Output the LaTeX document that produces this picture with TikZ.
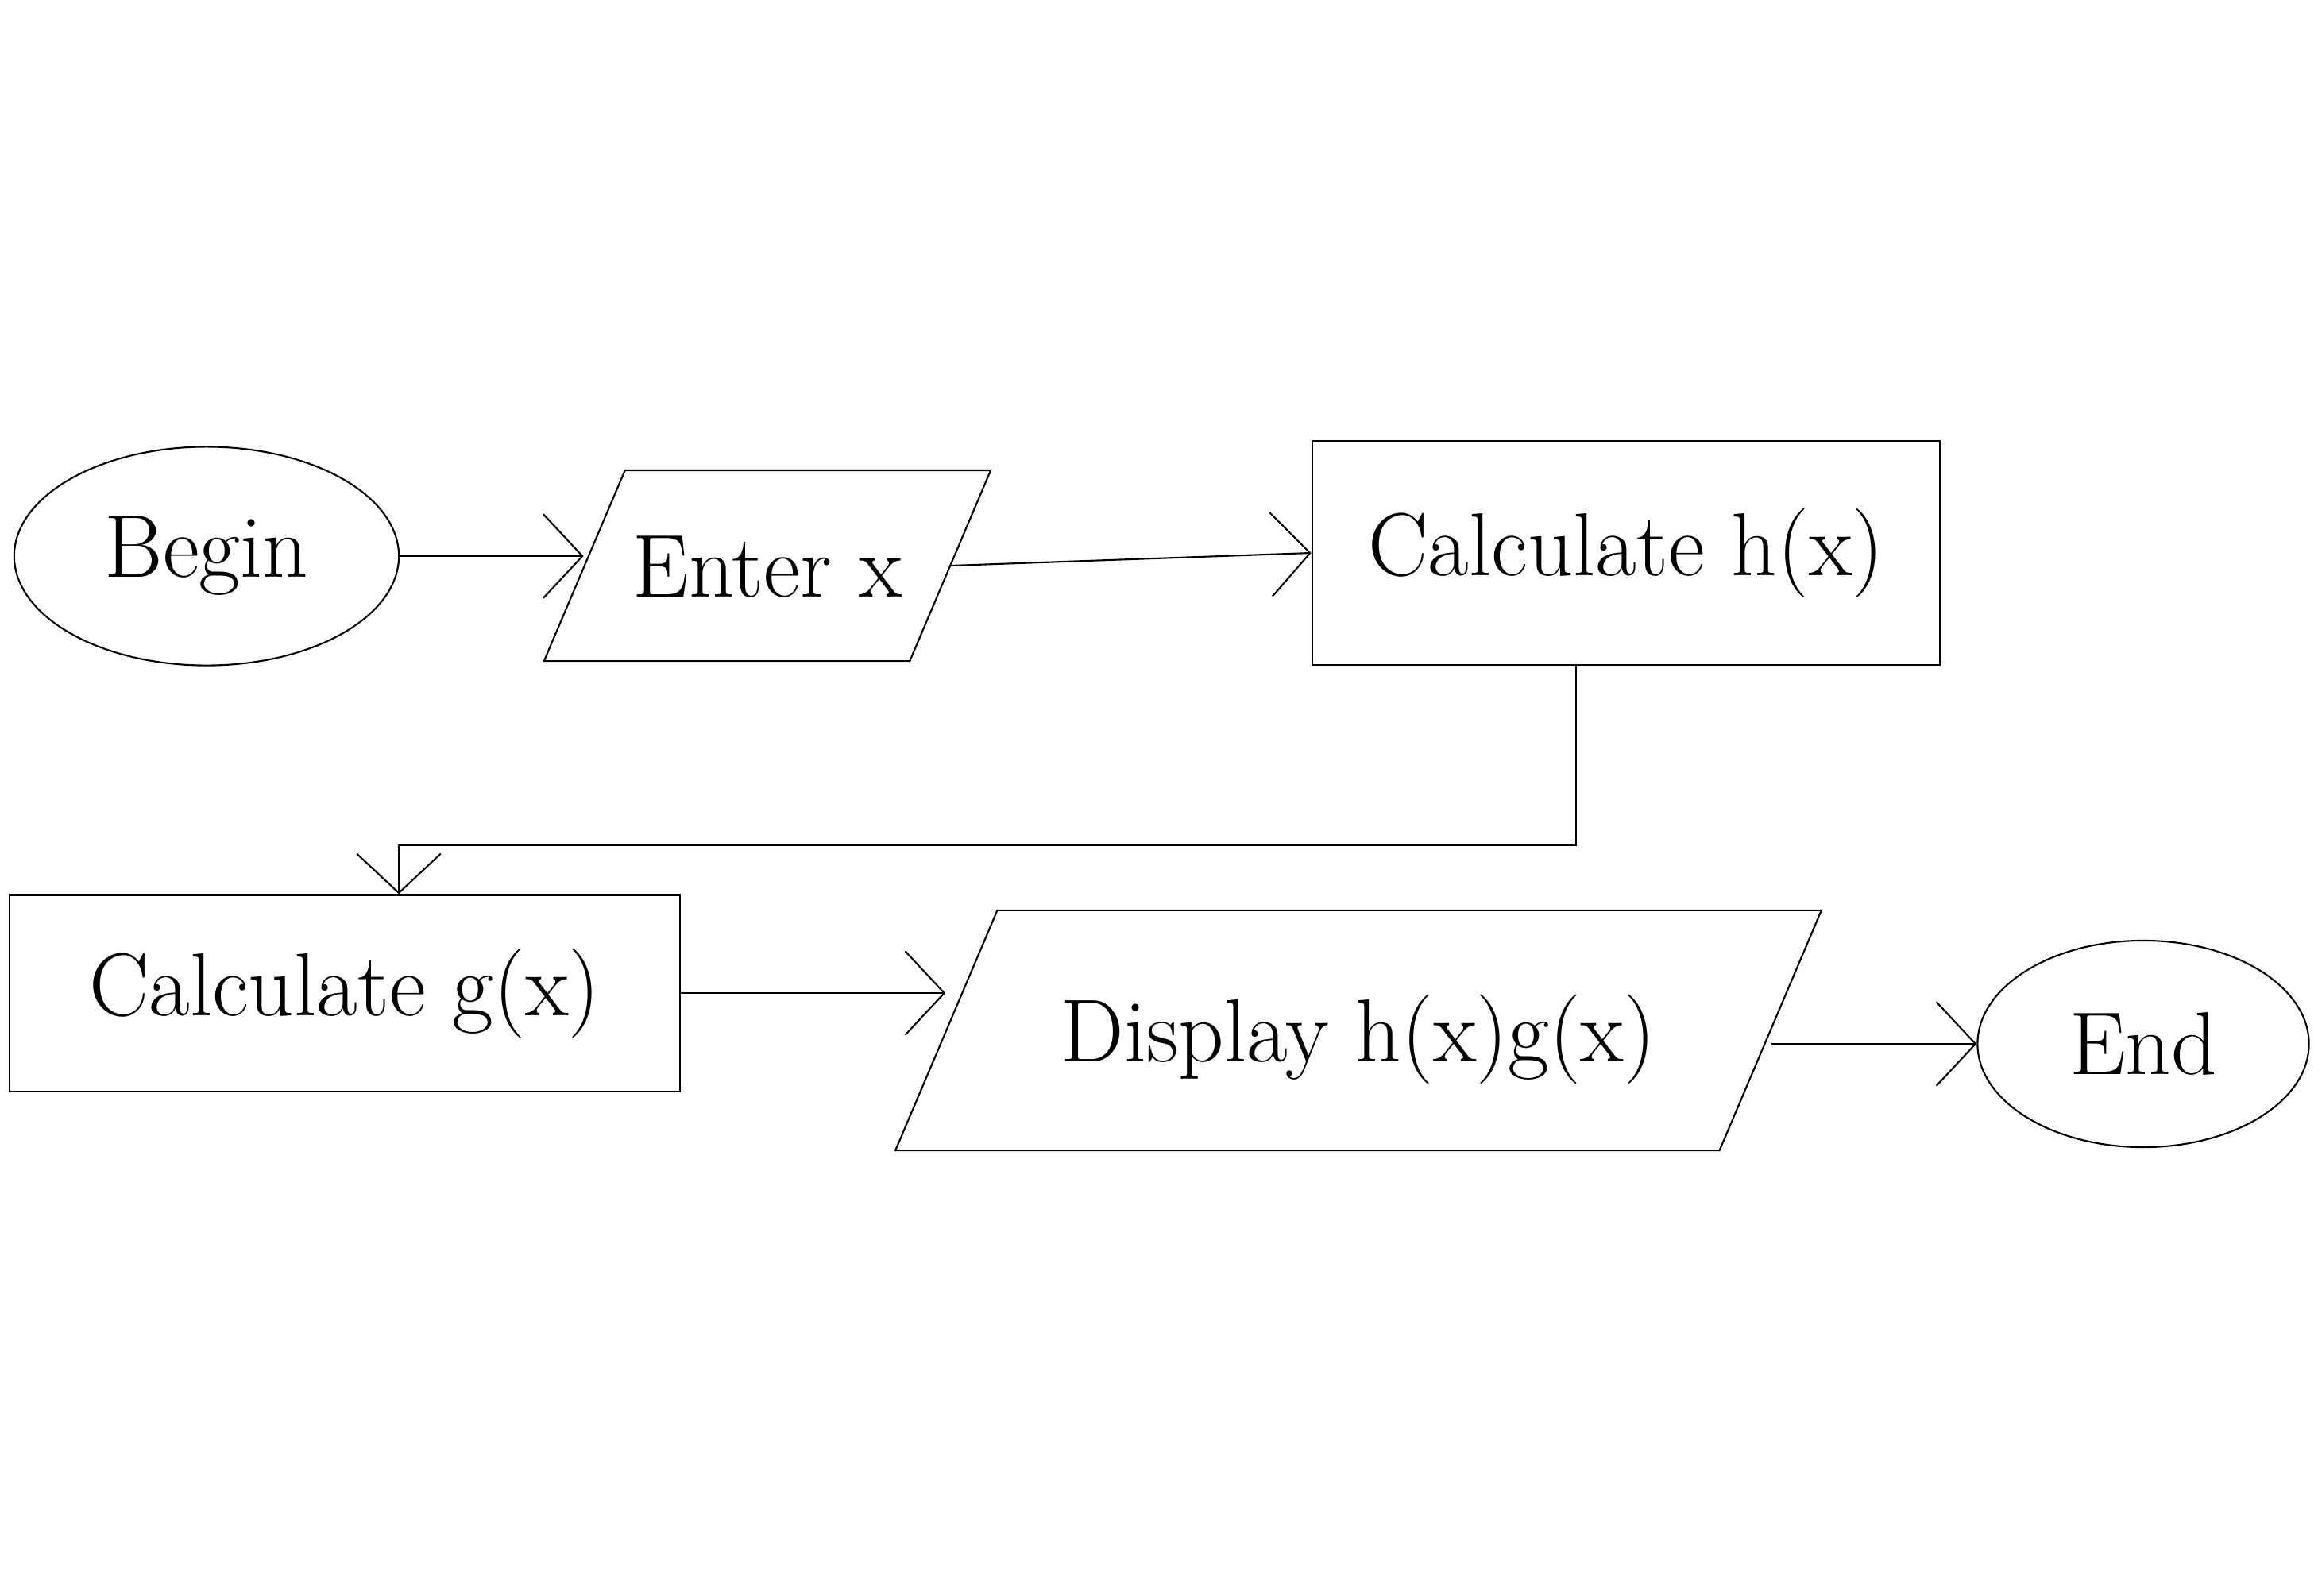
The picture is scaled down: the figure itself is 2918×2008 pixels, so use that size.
\documentclass[tikz,border=0pt]{standalone}
\usetikzlibrary{shapes.geometric,arrows.meta}
\begin{document}
\begin{tikzpicture}[x=0.01cm,y=-0.01cm,
  line width=0.6pt,
  every node/.style={font=\fontsize{32}{38}\selectfont, inner sep=0pt},
  term/.style={draw, ellipse},
  io/.style={draw, trapezium, trapezium stretches body=true},
  proc/.style={draw, rectangle},
  arr/.style={-{Straight Barb[length=14pt,width=30pt]}}
]
\useasboundingbox (0,0) rectangle (2918,2008);
\node[term, minimum width=4.84cm, minimum height=2.75cm] (begin) at (260,700) {Begin};
\node[io, trapezium left angle=67, trapezium right angle=113, minimum width=5.62cm, text height=1.59cm, text depth=0.81cm] (enter) at (966,712) {Enter x};
\node[proc, minimum width=7.9cm, minimum height=2.82cm] (calch) at (2047,696) {Calculate h(x)};
\node[proc, minimum width=8.43cm, minimum height=2.47cm] (calcg) at (434,1250) {Calculate g(x)};
\node[io, trapezium left angle=67, trapezium right angle=113, minimum width=11.65cm, text height=1.9cm, text depth=1.12cm] (display) at (1710,1297) {Display h(x)g(x)};
\node[term, minimum width=4.17cm, minimum height=2.6cm] (end) at (2698,1314) {End};
\coordinate (b1) at (1984,1064);
\coordinate (b2) at (502,1064);
\draw[arr] (begin.east) -- (begin.east -| enter.west);
\draw[arr] (enter.east) -- (calch.west);
\draw[arr] (calch.south -| b1) -- (b1) -- (b2) -- (calcg.north -| b2);
\draw[arr] (calcg.east) -- (display.west |- calcg.east);
\draw[arr] (display.east |- end.west) -- (end.west);
\end{tikzpicture}
\end{document}
